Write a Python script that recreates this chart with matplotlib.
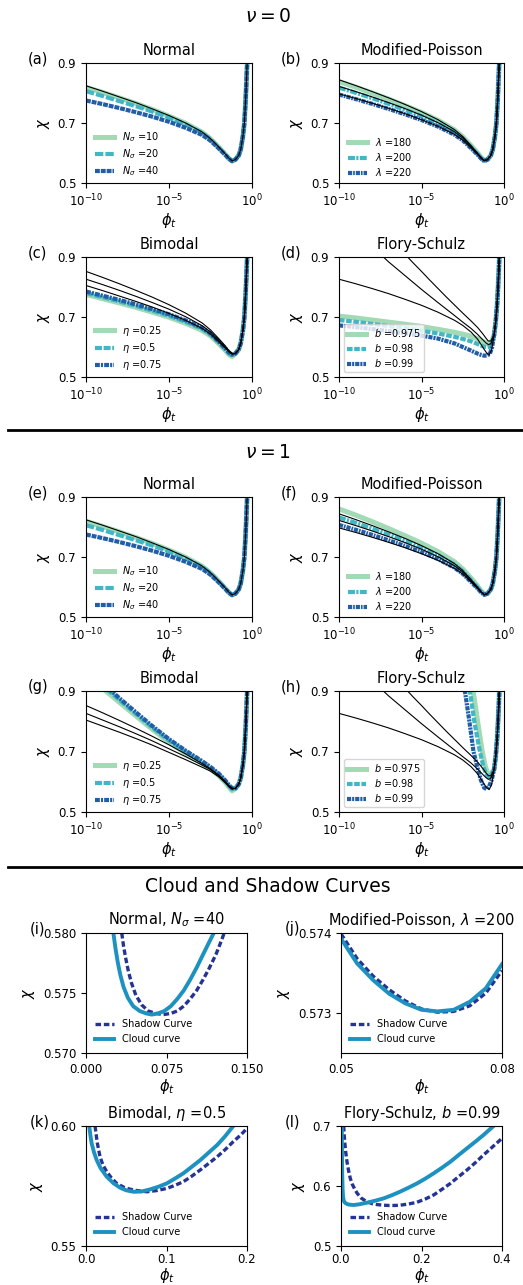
import numpy as np
import matplotlib
matplotlib.use('Agg')
import matplotlib.pyplot as plt
from matplotlib.lines import Line2D
from matplotlib.ticker import NullLocator

plt.rcParams['font.family'] = 'DejaVu Sans'
plt.rcParams['mathtext.fontset'] = 'dejavusans'
plt.rcParams['lines.scale_dashes'] = False
plt.rcParams['xtick.labelsize'] = 8.5
plt.rcParams['ytick.labelsize'] = 8.5
plt.rcParams['axes.titlesize'] = 10.5
plt.rcParams['axes.labelsize'] = 10.5
plt.rcParams['legend.fontsize'] = 7

W, H = 523, 1285

GREEN, TEAL, BLUE = '#a1dab4', '#41b6c4', '#225ea8'
SHADOW_COLOR, CLOUD_COLOR = '#253494', '#1d91c0'

# ---------------- data ----------------
# left branch grid (log10 phi_t) shared by most curves
LOG_PHI = [-10, -9, -8, -7, -6, -5, -4, -3, -2.5, -2, -1.6, -1.4, -1.2]
# common steep right branch
TAIL_LOG_PHI = [-1.0, -0.8, -0.68, -0.55, -0.46, -0.38, -0.32, -0.27]
TAIL_CHI = [0.578, 0.592, 0.612, 0.655, 0.700, 0.780, 0.860, 0.930]
FS_TAIL_LOG_PHI = [-0.6, -0.5, -0.42, -0.36, -0.31, -0.27]
FS_TAIL_CHI = [0.640, 0.685, 0.740, 0.800, 0.860, 0.930]

# Normal (nu = 0 and nu = 1 look the same)
NORMAL_LABELS = ['10', '20', '40']
NORMAL_BLACK = [0.824, 0.806, 0.787, 0.768, 0.747, 0.725, 0.700, 0.670, 0.648, 0.620, 0.596, 0.583, 0.574]
NORMAL_N10 = [0.819, 0.802, 0.784, 0.765, 0.745, 0.723, 0.699, 0.669, 0.647, 0.619, 0.595, 0.582, 0.573]
NORMAL_N20 = [0.806, 0.790, 0.773, 0.756, 0.738, 0.718, 0.695, 0.667, 0.646, 0.618, 0.595, 0.582, 0.573]
NORMAL_N40 = [0.775, 0.763, 0.750, 0.736, 0.721, 0.704, 0.684, 0.660, 0.641, 0.615, 0.593, 0.581, 0.573]

# Modified-Poisson
MP_LABELS = ['180', '200', '220']
MP_BLACK1 = [0.844, 0.825, 0.805, 0.784, 0.762, 0.738, 0.711, 0.678, 0.655, 0.625, 0.599, 0.585, 0.575]
MP_BLACK2 = [0.822, 0.805, 0.787, 0.768, 0.748, 0.726, 0.701, 0.671, 0.650, 0.621, 0.597, 0.584, 0.574]
MP_BLACK3 = [0.797, 0.782, 0.766, 0.749, 0.731, 0.711, 0.689, 0.662, 0.643, 0.617, 0.595, 0.583, 0.574]
MP0_L180 = [0.838, 0.820, 0.800, 0.780, 0.758, 0.735, 0.709, 0.677, 0.654, 0.625, 0.600, 0.586, 0.576]
MP0_L200 = [0.818, 0.801, 0.783, 0.764, 0.744, 0.723, 0.699, 0.669, 0.648, 0.620, 0.597, 0.584, 0.574]
MP0_L220 = [0.795, 0.780, 0.764, 0.747, 0.729, 0.710, 0.688, 0.661, 0.642, 0.616, 0.594, 0.582, 0.573]
MP1_L180 = [0.860, 0.840, 0.818, 0.795, 0.771, 0.746, 0.718, 0.684, 0.660, 0.630, 0.603, 0.588, 0.577]
MP1_L200 = [0.832, 0.814, 0.795, 0.775, 0.754, 0.731, 0.706, 0.675, 0.653, 0.623, 0.598, 0.585, 0.575]
MP1_L220 = [0.807, 0.791, 0.774, 0.756, 0.737, 0.716, 0.693, 0.664, 0.644, 0.617, 0.595, 0.583, 0.574]

# Bimodal
BI_LABELS = ['0.25', '0.5', '0.75']
BI0_BLACK1 = [0.852, 0.832, 0.811, 0.789, 0.766, 0.741, 0.713, 0.680, 0.657, 0.628, 0.603, 0.589, 0.579]
BI0_BLACK2 = [0.826, 0.808, 0.789, 0.769, 0.748, 0.726, 0.701, 0.671, 0.650, 0.622, 0.599, 0.586, 0.577]
BI0_BLACK3 = [0.805, 0.788, 0.770, 0.752, 0.733, 0.712, 0.689, 0.662, 0.643, 0.617, 0.596, 0.584, 0.576]
BI0_E25 = [0.775, 0.761, 0.747, 0.732, 0.716, 0.699, 0.679, 0.655, 0.637, 0.611, 0.588, 0.575, 0.568]
BI0_E50 = [0.780, 0.766, 0.752, 0.737, 0.721, 0.704, 0.684, 0.660, 0.641, 0.615, 0.592, 0.579, 0.571]
BI0_E75 = [0.785, 0.771, 0.757, 0.742, 0.726, 0.709, 0.689, 0.664, 0.645, 0.618, 0.595, 0.582, 0.574]
BI1_BLACK1 = [0.852, 0.828, 0.803, 0.777, 0.750, 0.722, 0.692, 0.660, 0.643, 0.622, 0.601, 0.588, 0.579]
BI1_BLACK2 = [0.826, 0.804, 0.782, 0.759, 0.735, 0.709, 0.683, 0.655, 0.640, 0.619, 0.599, 0.586, 0.577]
BI1_BLACK3 = [0.804, 0.784, 0.764, 0.743, 0.721, 0.697, 0.673, 0.648, 0.635, 0.616, 0.596, 0.584, 0.576]
BI1_E25 = [0.945, 0.909, 0.863, 0.818, 0.773, 0.731, 0.694, 0.661, 0.642, 0.620, 0.597, 0.583, 0.570]
BI1_E50 = [0.955, 0.919, 0.871, 0.825, 0.779, 0.736, 0.699, 0.665, 0.646, 0.624, 0.601, 0.587, 0.575]
BI1_E75 = [0.960, 0.926, 0.877, 0.830, 0.784, 0.741, 0.703, 0.668, 0.649, 0.627, 0.604, 0.590, 0.579]

# Flory-Schulz
FS_LABELS = ['0.975', '0.98', '0.99']
FS_BLACK_A_X = LOG_PHI + [-1.05, -0.9, -0.75]
FS_BLACK_A = [0.826, 0.811, 0.795, 0.778, 0.759, 0.739, 0.716, 0.689, 0.672, 0.650, 0.626, 0.609, 0.592, 0.580, 0.574, 0.590]
FS_BLACK_B_X = [-7.6, -7, -6, -5, -4, -3, -2.5, -2, -1.6, -1.3, -1.1, -0.95, -0.8]
FS_BLACK_B = [0.915, 0.884, 0.838, 0.792, 0.748, 0.705, 0.683, 0.662, 0.642, 0.625, 0.614, 0.608, 0.611]
FS_BLACK_C_X = [-6.1, -5.5, -5, -4.5, -4, -3.5, -3, -2.5, -2, -1.6, -1.3, -1.1, -0.95, -0.8]
FS_BLACK_C = [0.915, 0.880, 0.852, 0.823, 0.795, 0.767, 0.740, 0.713, 0.687, 0.665, 0.645, 0.630, 0.620, 0.620]
FS0_X = LOG_PHI + [-1.0, -0.85, -0.72]
FS0_B975 = [0.703, 0.697, 0.690, 0.683, 0.676, 0.668, 0.659, 0.649, 0.643, 0.636, 0.627, 0.621, 0.616, 0.612, 0.612, 0.622]
FS0_B98 = [0.690, 0.684, 0.677, 0.670, 0.662, 0.654, 0.645, 0.634, 0.627, 0.619, 0.610, 0.605, 0.601, 0.599, 0.601, 0.615]
FS0_B99 = [0.672, 0.666, 0.660, 0.653, 0.646, 0.638, 0.628, 0.612, 0.600, 0.588, 0.578, 0.574, 0.571, 0.572, 0.578, 0.600]
FS1_B975_X = [-1.95, -1.6, -1.35, -1.15, -1.0, -0.9, -0.78]
FS1_B975 = [0.930, 0.800, 0.710, 0.655, 0.628, 0.622, 0.628]
FS1_B98_X = [-2.15, -1.8, -1.5, -1.25, -1.05, -0.92, -0.8]
FS1_B98 = [0.930, 0.800, 0.710, 0.650, 0.622, 0.615, 0.622]
FS1_B99_X = [-2.45, -2.1, -1.85, -1.6, -1.4, -1.2, -1.05, -0.9, -0.75]
FS1_B99 = [0.930, 0.800, 0.700, 0.645, 0.605, 0.580, 0.576, 0.585, 0.605]

# Cloud and shadow curves
I_SHADOW_PHI = [0.0333, 0.0350, 0.0370, 0.0395, 0.0425, 0.0465, 0.0520, 0.0580, 0.0650, 0.0722,
                0.0790, 0.0850, 0.0910, 0.0970, 0.1030, 0.1090, 0.1150, 0.1210, 0.1250, 0.1288]
I_SHADOW_CHI = [0.5800, 0.5789, 0.5779, 0.5768, 0.5758, 0.5748, 0.5740, 0.5735, 0.5733, 0.5732,
                0.5733, 0.5735, 0.5739, 0.5745, 0.5752, 0.5761, 0.5771, 0.5782, 0.5791, 0.5800]
I_CLOUD_PHI = [0.0255, 0.0275, 0.0295, 0.0320, 0.0350, 0.0390, 0.0440, 0.0500, 0.0560, 0.0613,
               0.0670, 0.0730, 0.0790, 0.0850, 0.0910, 0.0970, 0.1030, 0.1090, 0.1140, 0.1190]
I_CLOUD_CHI = [0.5800, 0.5787, 0.5776, 0.5765, 0.5755, 0.5746, 0.5739, 0.5735, 0.5733, 0.5732,
               0.5733, 0.5735, 0.5739, 0.5745, 0.5752, 0.5761, 0.5771, 0.5782, 0.5791, 0.5800]

J_PHI = [0.050, 0.053, 0.056, 0.059, 0.062, 0.065, 0.068, 0.071, 0.074, 0.077, 0.080]
J_SHADOW_CHI = [0.57399, 0.57368, 0.57346, 0.57329, 0.57315, 0.57305, 0.57301, 0.57302, 0.57309, 0.57325, 0.57353]
J_CLOUD_CHI = [0.57393, 0.57362, 0.57341, 0.57324, 0.57312, 0.57304, 0.57302, 0.57304, 0.57314, 0.57331, 0.57361]

K_SHADOW_PHI = [0.0112, 0.014, 0.0174, 0.021, 0.0257, 0.031, 0.038, 0.048, 0.059, 0.0755, 0.088,
                0.1004, 0.110, 0.121, 0.131, 0.142, 0.152, 0.163, 0.173, 0.183, 0.192, 0.200]
K_SHADOW_CHI = [0.600, 0.5930, 0.5872, 0.5838, 0.5810, 0.5786, 0.5761, 0.5743, 0.5733, 0.5726, 0.5731,
                0.5740, 0.5752, 0.5768, 0.5790, 0.5817, 0.5843, 0.5872, 0.5902, 0.5935, 0.5962, 0.5990]
K_CLOUD_PHI = [0.004, 0.0055, 0.007, 0.010, 0.0133, 0.018, 0.0257, 0.034, 0.0423, 0.050, 0.059, 0.069,
               0.0797, 0.090, 0.1004, 0.110, 0.121, 0.131, 0.142, 0.152, 0.163, 0.173, 0.183]
K_CLOUD_CHI = [0.600, 0.5960, 0.5928, 0.5890, 0.5858, 0.5825, 0.5789, 0.5762, 0.5743, 0.5732, 0.5726, 0.5727,
               0.5736, 0.5747, 0.5761, 0.5780, 0.5803, 0.5829, 0.5858, 0.5888, 0.5921, 0.5958, 0.600]

L_SHADOW_PHI = [0.0066, 0.009, 0.012, 0.015, 0.019, 0.023, 0.028, 0.034, 0.040, 0.050, 0.0646, 0.078,
                0.090, 0.105, 0.120, 0.135, 0.147, 0.168, 0.189, 0.210, 0.230, 0.251, 0.272, 0.292,
                0.313, 0.334, 0.354, 0.377, 0.400]
L_SHADOW_CHI = [0.700, 0.675, 0.655, 0.640, 0.625, 0.613, 0.603, 0.595, 0.588, 0.580, 0.5735, 0.5705,
                0.5690, 0.5680, 0.5675, 0.5676, 0.5680, 0.5700, 0.5730, 0.5785, 0.5850, 0.5945, 0.6044, 0.6155,
                0.6267, 0.6390, 0.6517, 0.6655, 0.6794]
L_CLOUD_PHI = [0.002, 0.0025, 0.003, 0.004, 0.005, 0.007, 0.010, 0.015, 0.020, 0.0315, 0.045, 0.0646,
               0.085, 0.106, 0.127, 0.147, 0.168, 0.189, 0.210, 0.230, 0.251, 0.272, 0.292, 0.313,
               0.334, 0.354, 0.379]
L_CLOUD_CHI = [0.700, 0.650, 0.620, 0.595, 0.582, 0.575, 0.572, 0.5700, 0.5690, 0.5683, 0.5695, 0.5722,
               0.5755, 0.5794, 0.5848, 0.5906, 0.5973, 0.6044, 0.6125, 0.6210, 0.6305, 0.6406, 0.6515, 0.6628,
               0.6740, 0.6850, 0.7000]


def rect(l, t, r, b):
    # pixel box -> figure fraction
    return [l / W, 1 - b / H, (r - l) / W, (b - t) / H]


def std(left):
    return LOG_PHI + TAIL_LOG_PHI, left + TAIL_CHI


def fs(xs, ys):
    return list(xs) + FS_TAIL_LOG_PHI, list(ys) + FS_TAIL_CHI


def log_panel(box, tag, title, sym, labels, colored, blacks, dashes, frame=False):
    ax = fig.add_axes(rect(*box))
    styles = [dict(color=GREEN, lw=3.6, ls='-'),
              dict(color=TEAL, lw=3.0, ls=(0, dashes[0])),
              dict(color=BLUE, lw=3.0, ls=(0, dashes[1]))]
    for (x, y), st, lab in zip(colored, styles, labels):
        ax.plot(10 ** np.array(x), y, label=f'{sym} ={lab}', **st)
    for x, y in blacks:
        ax.plot(10 ** np.array(x), y, color='black', lw=0.8)
    ax.set_xscale('log')
    ax.set_xlim(1e-10, 1)
    ax.set_ylim(0.5, 0.9)
    ax.set_xticks([1e-10, 1e-5, 1])
    ax.xaxis.set_minor_locator(NullLocator())
    ax.set_yticks([0.5, 0.7, 0.9])
    ax.set_yticklabels(['0.5', '0.7', '0.9'])
    ax.set_xlabel(r'$\phi_t$', labelpad=1)
    ax.set_ylabel(r'$\chi$')
    ax.set_title(title)
    ax.text(-0.35, 1.035, tag, transform=ax.transAxes, fontsize=10.5, va='center')
    if frame:
        ax.legend(loc='lower left', frameon=True, labelspacing=0.3, borderpad=0.3)
    else:
        ax.legend(loc='lower left', frameon=False, labelspacing=0.35,
                  bbox_to_anchor=(0, -0.035))
    return ax


def lin_panel(box, tag, title, shadow, cloud, xlim, xticks, xlabels, ylim, yticks, ylabels,
              pad=1, tickpad=3.5):
    ax = fig.add_axes(rect(*box))
    ax.plot(shadow[0], shadow[1], color=SHADOW_COLOR, lw=2.4, ls=(0, (4, 2)), label='Shadow Curve')
    ax.plot(cloud[0], cloud[1], color=CLOUD_COLOR, lw=2.8, label='Cloud curve')
    ax.set_xlim(*xlim)
    ax.set_ylim(*ylim)
    ax.set_xticks(xticks)
    ax.set_xticklabels(xlabels)
    ax.set_yticks(yticks)
    ax.set_yticklabels(ylabels)
    ax.tick_params(axis='x', pad=tickpad)
    ax.set_xlabel(r'$\phi_t$', labelpad=pad)
    ax.set_ylabel(r'$\chi$')
    ax.set_title(title)
    ax.text(-0.35, 1.035, tag, transform=ax.transAxes, fontsize=10.5, va='center')
    ax.legend(loc='lower left', frameon=False)
    return ax


fig = plt.figure(figsize=(W / 100, H / 100), dpi=100)

LEFT = (86, 252)
RIGHT = (339, 504)

# ---- nu = 0 ----
fig.text(0.513, 1 - 17 / H, r'$\nu = 0$', ha='center', va='center', fontsize=13.5)
log_panel((LEFT[0], 63, LEFT[1], 183), '(a)', 'Normal', r'$N_\sigma$', NORMAL_LABELS,
          [std(NORMAL_N10), std(NORMAL_N20), std(NORMAL_N40)], [std(NORMAL_BLACK)],
          [(6, 1.5), (3.5, 0.7)])
log_panel((RIGHT[0], 63, RIGHT[1], 183), '(b)', 'Modified-Poisson', r'$\lambda$', MP_LABELS,
          [std(MP0_L180), std(MP0_L200), std(MP0_L220)],
          [std(MP_BLACK1), std(MP_BLACK2), std(MP_BLACK3)],
          [(5, 1, 1.5, 1), (3, 0.7, 1.2, 0.7)])
log_panel((LEFT[0], 257, LEFT[1], 377), '(c)', 'Bimodal', r'$\eta$', BI_LABELS,
          [std(BI0_E25), std(BI0_E50), std(BI0_E75)],
          [std(BI0_BLACK1), std(BI0_BLACK2), std(BI0_BLACK3)],
          [(5, 1.2), (3.5, 0.8, 1.5, 0.8)])
log_panel((RIGHT[0], 257, RIGHT[1], 377), '(d)', 'Flory-Schulz', r'$b$', FS_LABELS,
          [fs(FS0_X, FS0_B975), fs(FS0_X, FS0_B98), fs(FS0_X, FS0_B99)],
          [fs(FS_BLACK_A_X, FS_BLACK_A), fs(FS_BLACK_B_X, FS_BLACK_B), fs(FS_BLACK_C_X, FS_BLACK_C)],
          [(4, 1.2), (3, 0.7, 1.5, 0.7)], frame=True)

fig.add_artist(Line2D([8 / W, 1], [1 - 430 / H, 1 - 430 / H], color='black', lw=2))

# ---- nu = 1 ----
fig.text(0.513, 1 - 452 / H, r'$\nu = 1$', ha='center', va='center', fontsize=13.5)
log_panel((LEFT[0], 497, LEFT[1], 617), '(e)', 'Normal', r'$N_\sigma$', NORMAL_LABELS,
          [std(NORMAL_N10), std(NORMAL_N20), std(NORMAL_N40)], [std(NORMAL_BLACK)],
          [(6, 1.5), (3.5, 0.7)])
log_panel((RIGHT[0], 497, RIGHT[1], 617), '(f)', 'Modified-Poisson', r'$\lambda$', MP_LABELS,
          [std(MP1_L180), std(MP1_L200), std(MP1_L220)],
          [std(MP_BLACK1), std(MP_BLACK2), std(MP_BLACK3)],
          [(5, 1, 1.5, 1), (3, 0.7, 1.2, 0.7)])
log_panel((LEFT[0], 691, LEFT[1], 812), '(g)', 'Bimodal', r'$\eta$', BI_LABELS,
          [std(BI1_E25), std(BI1_E50), std(BI1_E75)],
          [std(BI1_BLACK1), std(BI1_BLACK2), std(BI1_BLACK3)],
          [(5, 1.2), (3.5, 0.8, 1.5, 0.8)])
log_panel((RIGHT[0], 691, RIGHT[1], 812), '(h)', 'Flory-Schulz', r'$b$', FS_LABELS,
          [fs(FS1_B975_X, FS1_B975), fs(FS1_B98_X, FS1_B98), fs(FS1_B99_X, FS1_B99)],
          [fs(FS_BLACK_A_X, FS_BLACK_A), fs(FS_BLACK_B_X, FS_BLACK_B), fs(FS_BLACK_C_X, FS_BLACK_C)],
          [(4, 1.2), (3, 0.7, 1.5, 0.7)], frame=True)

fig.add_artist(Line2D([8 / W, 1], [1 - 867 / H, 1 - 867 / H], color='black', lw=2))

# ---- cloud and shadow curves ----
fig.text(0.513, 1 - 887 / H, 'Cloud and Shadow Curves', ha='center', va='center', fontsize=13.5)
lin_panel((86, 933, 247, 1053), '(i)', r'Normal, $N_\sigma$ =40',
          (I_SHADOW_PHI, I_SHADOW_CHI), (I_CLOUD_PHI, I_CLOUD_CHI),
          (0, 0.15), [0, 0.075, 0.15], ['0.000', '0.075', '0.150'],
          (0.570, 0.580), [0.570, 0.575, 0.580], ['0.570', '0.575', '0.580'])
lin_panel((341, 933, 502, 1053), '(j)', r'Modified-Poisson, $\lambda$ =200',
          (J_PHI, J_SHADOW_CHI), (J_PHI, J_CLOUD_CHI),
          (0.05, 0.08), [0.05, 0.08], ['0.05', '0.08'],
          (0.5725, 0.574), [0.573, 0.574], ['0.573', '0.574'])
lin_panel((86, 1126, 247, 1246), '(k)', r'Bimodal, $\eta$ =0.5',
          (K_SHADOW_PHI, K_SHADOW_CHI), (K_CLOUD_PHI, K_CLOUD_CHI),
          (0, 0.2), [0, 0.1, 0.2], ['0.0', '0.1', '0.2'],
          (0.55, 0.60), [0.55, 0.60], ['0.55', '0.60'], pad=0, tickpad=1.5)
lin_panel((341, 1126, 502, 1246), '(l)', r'Flory-Schulz, $b$ =0.99',
          (L_SHADOW_PHI, L_SHADOW_CHI), (L_CLOUD_PHI, L_CLOUD_CHI),
          (0, 0.4), [0, 0.2, 0.4], ['0.0', '0.2', '0.4'],
          (0.5, 0.7), [0.5, 0.6, 0.7], ['0.5', '0.6', '0.7'], pad=0, tickpad=1.5)

fig.savefig('out.png', dpi=100)
